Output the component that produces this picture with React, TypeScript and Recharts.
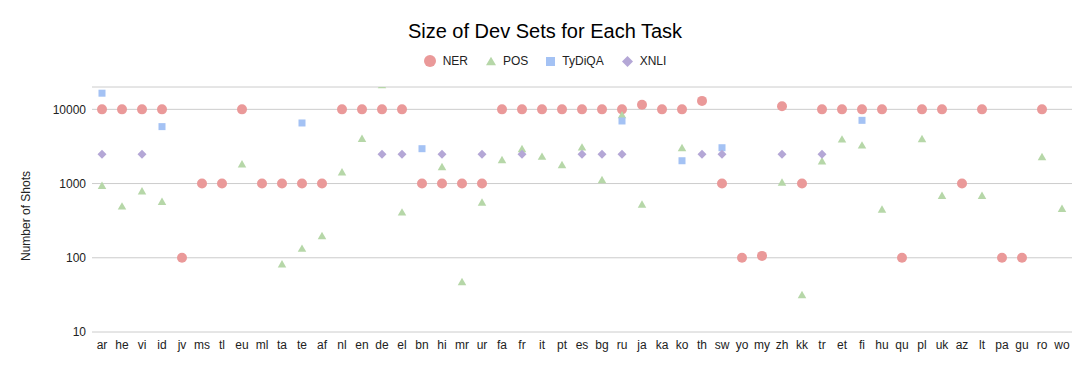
import React from "react";
import { ScatterChart, Scatter, XAxis, YAxis, CartesianGrid, Legend } from "recharts";

const langs = [
  "ar", "he", "vi", "id", "jv", "ms", "tl", "eu", "ml", "ta",
  "te", "af", "nl", "en", "de", "el", "bn", "hi", "mr", "ur",
  "fa", "fr", "it", "pt", "es", "bg", "ru", "ja", "ka", "ko",
  "th", "sw", "yo", "my", "zh", "kk", "tr", "et", "fi", "hu",
  "qu", "pl", "uk", "az", "lt", "pa", "gu", "ro", "wo",
];

const ner = [
  10000, 10000, 10000, 10000, 100, 1000, 1000, 10000, 1000, 1000,
  1000, 1000, 10000, 10000, 10000, 10000, 1000, 1000, 1000, 1000,
  10000, 10000, 10000, 10000, 10000, 10000, 10000, 11500, 10000, 10000,
  13000, 1000, 100, 106, 11000, 1000, 10000, 10000, 10000, 10000,
  100, 10000, 10000, 1000, 10000, 100, 100, 10000, null,
];

const pos = [
  950, 500, 800, 577, null, null, null, 1845, null, 83,
  135, 200, 1440, 4080, 21500, 415, null, 1700, 48, 565,
  2110, 2970, 2340, 1810, 3120, 1135, 8480, 530, null, 3060,
  null, null, null, null, 1050, 32, 2030, 4000, 3320, 455,
  null, 4040, 695, null, 695, null, null, 2320, 465,
];

const tydiqa = [
  16500, null, null, 5850, null, null, null, null, null, null,
  6550, null, null, null, null, null, 2950, null, null, null,
  null, null, null, null, null, null, 6970, null, null, 2030,
  null, 3040, null, null, null, null, null, null, 7110, null,
  null, null, null, null, null, null, null, null, null,
];

const xnli = [
  2490, null, 2490, null, null, null, null, null, null, null,
  null, null, null, null, 2490, 2490, null, 2490, null, 2490,
  null, 2490, null, null, 2490, 2490, 2490, null, null, null,
  2490, 2490, null, null, 2490, null, 2490, null, null, null,
  null, null, null, null, null, null, null, null, null,
];

const yTicks = [10, 100, 1000, 10000];

const toPoints = (vals: (number | null)[]) =>
  vals
    .map((v, i) => ({ x: i, y: v }))
    .filter((p) => p.y !== null);

const FONT = '"Liberation Sans", Arial, sans-serif';

const COLORS = {
  ner: "#ea9999",
  pos: "#b6d7a8",
  tydiqa: "#a4c2f4",
  xnli: "#b4a7d6",
};

type Kind = "circle" | "triangle" | "square" | "diamond";

const Marker = ({ kind, cx, cy, s, fill }: { kind: Kind; cx: number; cy: number; s: number; fill: string }) => {
  const h = s / 2;
  if (kind === "circle") return <circle cx={cx} cy={cy} r={h} fill={fill} />;
  if (kind === "square") return <rect x={cx - h} y={cy - h} width={s} height={s} fill={fill} />;
  if (kind === "diamond")
    return <polygon points={`${cx},${cy - h} ${cx + h},${cy} ${cx},${cy + h} ${cx - h},${cy}`} fill={fill} />;
  const th = s * 0.87;
  return (
    <polygon
      points={`${cx},${cy - th / 2} ${cx + h},${cy + th / 2} ${cx - h},${cy + th / 2}`}
      fill={fill}
    />
  );
};

const shapeOf = (kind: Kind, s: number, fill: string) => (props: any) =>
  <Marker kind={kind} cx={props.cx} cy={props.cy} s={s} fill={fill} />;

const legendItems: { name: string; kind: Kind; s: number; color: string }[] = [
  { name: "NER", kind: "circle", s: 12, color: COLORS.ner },
  { name: "POS", kind: "triangle", s: 10, color: COLORS.pos },
  { name: "TyDiQA", kind: "square", s: 9, color: COLORS.tydiqa },
  { name: "XNLI", kind: "diamond", s: 11, color: COLORS.xnli },
];

const LegendContent = () => (
  <div style={{ display: "flex", justifyContent: "center", alignItems: "center", height: 18, fontFamily: FONT, fontSize: 12, color: "#222" }}>
    {legendItems.map((it, i) => (
      <div key={it.name} style={{ display: "flex", alignItems: "center", marginLeft: i === 0 ? 0 : 18 }}>
        <svg width={it.s} height={it.s} style={{ marginRight: 7 }}>
          <Marker kind={it.kind} cx={it.s / 2} cy={it.s / 2} s={it.s} fill={it.color} />
        </svg>
        <span>{it.name}</span>
      </div>
    ))}
  </div>
);

const YLabel = () => (
  <text
    x={26}
    y={216}
    transform="rotate(-90 26 216)"
    textAnchor="middle"
    dominantBaseline="central"
    fontFamily={FONT}
    fontSize={12}
    fill="#222"
  >
    Number of Shots
  </text>
);

const App: React.FC = () => {
  return (
    <div style={{ position: "relative", width: 1090, height: 371, background: "#fff" }}>
      <style>{`body{margin:0}`}</style>
      <div
        style={{
          position: "absolute",
          top: 19,
          left: 0,
          width: 1090,
          textAlign: "center",
          fontFamily: FONT,
          fontSize: 20,
          color: "#000",
          lineHeight: "24px",
        }}
      >
        Size of Dev Sets for Each Task
      </div>
      <ScatterChart width={1090} height={371} margin={{ top: 87, right: 18, bottom: 9, left: 0 }}>
        <CartesianGrid vertical={false} stroke="#cccccc" />
        <XAxis
          type="number"
          dataKey="x"
          domain={[-0.5, langs.length - 0.5]}
          ticks={langs.map((_, i) => i)}
          tickFormatter={(i: number) => langs[i]}
          interval={0}
          axisLine={false}
          tickLine={false}
          tickSize={0}
          tickMargin={8}
          height={30}
          tick={{ fontSize: 12, fontFamily: FONT, fill: "#222" }}
        />
        <YAxis
          type="number"
          dataKey="y"
          scale="log"
          domain={[10, 20000]}
          ticks={yTicks}
          allowDataOverflow
          axisLine={false}
          tickLine={false}
          tickSize={0}
          tickMargin={6}
          width={92}
          tick={{ fontSize: 12, fontFamily: FONT, fill: "#222" }}
          label={<YLabel />}
        />
        <Legend
          verticalAlign="middle"
          align="center"
          wrapperStyle={{ top: 52, left: 0, width: 1090 }}
          content={<LegendContent />}
        />
        <Scatter name="NER" data={toPoints(ner)} shape={shapeOf("circle", 10, COLORS.ner)} isAnimationActive={false} />
        <Scatter name="POS" data={toPoints(pos)} shape={shapeOf("triangle", 8.5, COLORS.pos)} isAnimationActive={false} />
        <Scatter name="TyDiQA" data={toPoints(tydiqa)} shape={shapeOf("square", 7, COLORS.tydiqa)} isAnimationActive={false} />
        <Scatter name="XNLI" data={toPoints(xnli)} shape={shapeOf("diamond", 9, COLORS.xnli)} isAnimationActive={false} />
      </ScatterChart>
    </div>
  );
};

export default App;
